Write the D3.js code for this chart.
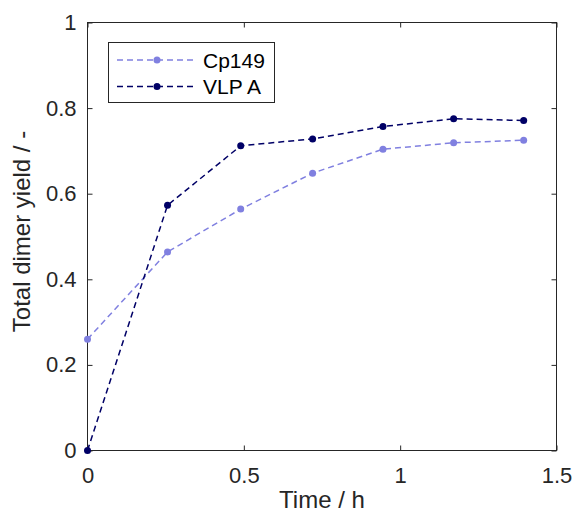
<!DOCTYPE html>
<html>
<head>
<meta charset="utf-8">
<script src="https://cdn.jsdelivr.net/npm/d3@7/dist/d3.min.js"></script>
<style>
  html, body { margin: 0; padding: 0; background: #fff; }
  svg { display: block; font-family: "Liberation Sans", Arial, sans-serif; }
</style>
</head>
<body>
<svg id="chart" width="574" height="513"></svg>
<script>
const time = [0, 0.256, 0.49, 0.72, 0.945, 1.171, 1.395];
const cp149 = [0.26, 0.464, 0.564, 0.648, 0.704, 0.719, 0.725];
const vlpA = [0, 0.573, 0.712, 0.728, 0.757, 0.775, 0.771];
const seriesNames = ["Cp149", "VLP A"];
const seriesColors = ["#8080e0", "#000066"];
const xTicks = [0, 0.5, 1, 1.5];
const yTicks = [0, 0.2, 0.4, 0.6, 0.8, 1];
const xLabel = "Time / h";
const yLabel = "Total dimer yield / -";

const series = [
  { name: seriesNames[0], color: seriesColors[0], values: cp149 },
  { name: seriesNames[1], color: seriesColors[1], values: vlpA }
];

const svg = d3.select("#chart");
const margin = { left: 87.5, right: 17.5, top: 22.5, bottom: 62.5 };
const W = 574, H = 513;
const x = d3.scaleLinear().domain([0, 1.5]).range([margin.left, W - margin.right]);
const y = d3.scaleLinear().domain([0, 1]).range([H - margin.bottom, margin.top]);
const axisColor = "#262626";
const tickLen = 5;

// axes box
const g = svg.append("g");
g.append("rect")
  .attr("x", x(0)).attr("y", y(1))
  .attr("width", x(1.5) - x(0)).attr("height", y(0) - y(1))
  .attr("fill", "none").attr("stroke", axisColor).attr("stroke-width", 1);

// bottom axis
const xAxis = g.append("g").attr("transform", `translate(0,${y(0)})`)
  .call(d3.axisBottom(x).tickValues(xTicks).tickSizeInner(-tickLen).tickSizeOuter(0).tickPadding(17).tickFormat(d3.format("")));
xAxis.select(".domain").remove();
xAxis.selectAll("line").attr("stroke", axisColor);
xAxis.selectAll("text").attr("fill", axisColor).attr("font-size", 22);

// top ticks
const xTop = g.append("g").attr("transform", `translate(0,${y(1)})`)
  .call(d3.axisTop(x).tickValues(xTicks).tickSizeInner(-tickLen).tickSizeOuter(0).tickFormat(""));
xTop.select(".domain").remove();
xTop.selectAll("line").attr("stroke", axisColor);

// left axis
const yAxis = g.append("g").attr("transform", `translate(${x(0)},0)`)
  .call(d3.axisLeft(y).tickValues(yTicks).tickSizeInner(-tickLen).tickSizeOuter(0).tickPadding(11).tickFormat(d3.format("")));
yAxis.select(".domain").remove();
yAxis.selectAll("line").attr("stroke", axisColor);
yAxis.selectAll("text").attr("fill", axisColor).attr("font-size", 22);

// right ticks
const yRight = g.append("g").attr("transform", `translate(${x(1.5)},0)`)
  .call(d3.axisRight(y).tickValues(yTicks).tickSizeInner(-tickLen).tickSizeOuter(0).tickFormat(""));
yRight.select(".domain").remove();
yRight.selectAll("line").attr("stroke", axisColor);

// axis labels
svg.append("text")
  .attr("x", (x(0) + x(1.5)) / 2).attr("y", 508)
  .attr("text-anchor", "middle").attr("font-size", 24).attr("fill", axisColor)
  .text(xLabel);
svg.append("text")
  .attr("transform", `translate(30,${(y(0) + y(1)) / 2 - 5}) rotate(-90)`)
  .attr("text-anchor", "middle").attr("font-size", 24).attr("fill", axisColor)
  .text(yLabel);

// data
const line = d3.line().x((d, i) => x(time[i])).y(d => y(d));
series.forEach(s => {
  svg.append("path")
    .attr("d", line(s.values))
    .attr("fill", "none").attr("stroke", s.color)
    .attr("stroke-width", 1.5).attr("stroke-dasharray", "6,4");
  svg.selectAll(null).data(s.values).enter().append("circle")
    .attr("cx", (d, i) => x(time[i])).attr("cy", d => y(d))
    .attr("r", 3.5).attr("fill", s.color);
});

// legend
const lg = svg.append("g");
lg.append("rect").attr("x", 108.5).attr("y", 42.5).attr("width", 166).attr("height", 60)
  .attr("fill", "#fff").attr("stroke", axisColor).attr("stroke-width", 1);
series.forEach((s, i) => {
  const ly = 60 + i * 26.5;
  lg.append("line").attr("x1", 117).attr("x2", 197).attr("y1", ly).attr("y2", ly)
    .attr("stroke", s.color).attr("stroke-width", 1.5).attr("stroke-dasharray", "6,4");
  lg.append("circle").attr("cx", 157).attr("cy", ly).attr("r", 3.5).attr("fill", s.color);
  lg.append("text").attr("x", 203).attr("y", ly).attr("dy", "0.36em")
    .attr("font-size", 21).attr("fill", "#000").text(s.name);
});
</script>
</body>
</html>
